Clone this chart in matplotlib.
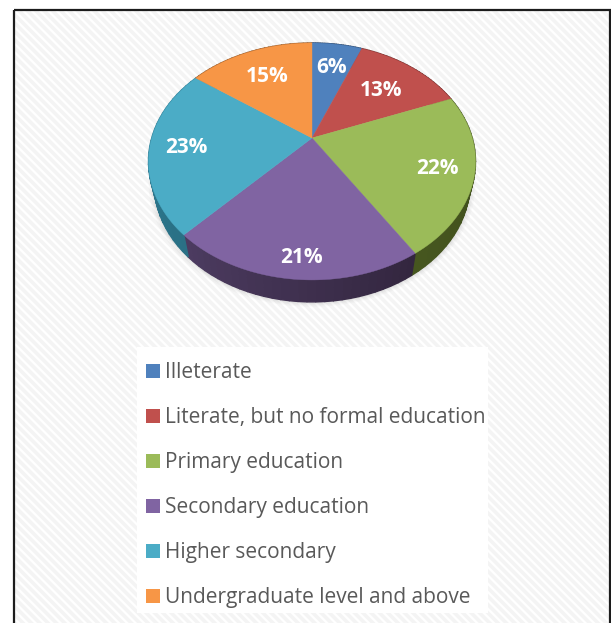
import matplotlib as mpl
import matplotlib.pyplot as plt
from matplotlib.patches import Patch, Polygon, Rectangle
import numpy as np

mpl.rcParams['font.family'] = ['Open Sans', 'DejaVu Sans']
mpl.rcParams['hatch.linewidth'] = 2.6

categories = ["Illeterate", "Literate, but no formal education", "Primary education",
              "Secondary education", "Higher secondary", "Undergraduate level and above"]
shares = [6, 13, 22, 21, 23, 15]
colors = ["#4F81BD", "#C0504D", "#9BBB59", "#8064A2", "#4BACC6", "#F79646"]
# side wall shades, left and right end of each slice
wall_left = ["#2f4a6e", "#6e2e2c", "#46561f", "#4c3b60", "#2f7f95", "#8f5526"]
wall_right = ["#2f4a6e", "#6e2e2c", "#3c4a1c", "#33263f", "#2a7085", "#8f5526"]
label_radius = [0.735, 0.665, 0.785, 0.862, 0.778, 0.696]
label_turn = [0, 0, 0, -1.8, 0, 0]

# tilted disc: perspective projection of the unit circle, in pixels
CX, CY = 312, 138
R = 160.3
A, C = -86.5, 0.198
DEPTH = 22
SHRINK = 0.965


def project(theta, r=1.0):
    u, v = r*np.sin(theta), r*np.cos(theta)
    w = 1 + C*v
    return CX + R*u/w, (A*v + CY)/w


def rim(theta):
    x, y = project(theta)
    return np.column_stack([x, y])


def floor(theta):
    x, y = project(theta)
    return np.column_stack([CX + (x - CX)*SHRINK, y + DEPTH])


def blend(c1, c2, t):
    return tuple((1 - t)*np.array(mpl.colors.to_rgb(c1)) + t*np.array(mpl.colors.to_rgb(c2)))


fig = plt.figure(figsize=(6.11, 6.23), dpi=100)
ax = fig.add_axes([0, 0, 1, 1])
ax.set_xlim(0, 611)
ax.set_ylim(623, 0)
ax.axis("off")

# striped page and its frame
ax.add_patch(Rectangle((14, 10), 596, 640, fc="white", ec="#f4f4f4", hatch="\\\\\\\\", lw=0, zorder=0))
ax.add_patch(Rectangle((14, 10), 596, 640, fc="none", ec="#1c1c1c", lw=1.6, zorder=1))

edges = 2*np.pi*np.cumsum([0] + shares)/sum(shares)

# soft shadow under the disc
full = np.linspace(0, 2*np.pi, 200)
for grow, alpha in [(1.035, 0.03), (1.025, 0.04), (1.015, 0.05), (1.006, 0.06)]:
    pts = floor(full)
    pts = np.column_stack([CX + (pts[:, 0] - CX)*grow, 165 + (pts[:, 1] - 165)*grow])
    ax.add_patch(Polygon(pts, fc="#555555", ec="none", alpha=alpha, zorder=2))

# side walls, cut into strips for the shading
for i in range(len(shares)):
    th = np.linspace(edges[i], edges[i+1], 30)
    for j in range(len(th) - 1):
        seg = th[j:j+2]
        poly = np.vstack([rim(seg), floor(seg)[::-1]])
        t = 1 - j/(len(th) - 2)
        c = blend(wall_left[i], wall_right[i], t)
        ax.add_patch(Polygon(poly, fc=c, ec=c, lw=1.0, zorder=3))

# top faces and value labels
for i, share in enumerate(shares):
    th = np.linspace(edges[i], edges[i+1], 80)
    poly = np.vstack([[CX, CY], rim(th)])
    ax.add_patch(Polygon(poly, fc=colors[i], ec=colors[i], lw=0.3, zorder=4))
    mid = (edges[i] + edges[i+1])/2 + np.radians(label_turn[i])
    x, y = project(mid, label_radius[i])
    ax.text(x, y + 1.5, f"{share}%", color="white", fontsize=15, fontweight="bold",
            ha="center", va="center", zorder=5)

# legend on its own white panel
ax.add_patch(Rectangle((137, 347), 351, 266, fc="white", ec="none", zorder=2))
handles = [Patch(fc=c, ec="none") for c in colors]
ax.legend(handles, categories, loc="upper left", bbox_to_anchor=(146, 362), bbox_transform=ax.transData,
          frameon=False, fontsize=15, labelcolor="#595959", handlelength=0.67, handleheight=0.67,
          handletextpad=0.24, labelspacing=1.155, borderpad=0, borderaxespad=0)

fig.savefig("out.png", dpi=100)
